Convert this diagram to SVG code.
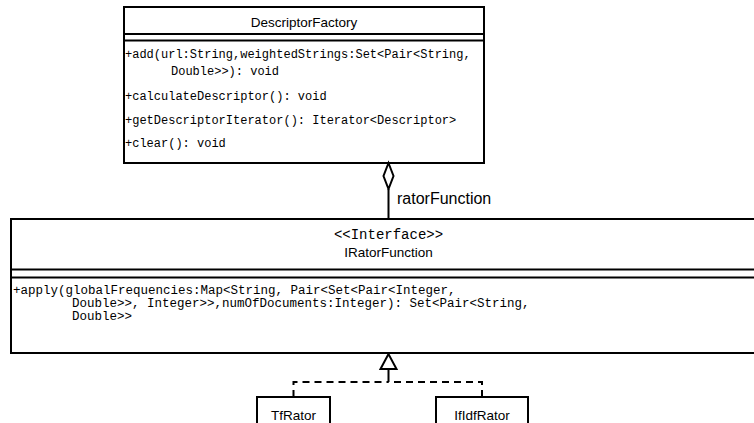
<svg xmlns="http://www.w3.org/2000/svg" width="754" height="423" viewBox="0 0 754 423">
  <style>
    .box{fill:#fff;stroke:#000;stroke-width:2}
    .sep{stroke:#000;stroke-width:2}
    .mono{font-family:"Liberation Mono","Courier New",monospace;font-size:12.5px;fill:#000}
    .small{font-size:12px}
    .sans{font-family:"Liberation Sans",Arial,sans-serif;font-size:13.5px;fill:#000}
    .mid{text-anchor:middle}
    .edge{fill:none;stroke:#000;stroke-width:2}
    .dash{stroke-dasharray:7 5}
    .head{fill:#fff;stroke:#000;stroke-width:2}
  </style>
  <rect width="754" height="423" fill="#fff"/>

  <!-- class DescriptorFactory -->
  <g id="DescriptorFactory">
    <rect class="box" x="124" y="7" width="360" height="156"/>
    <line class="sep" x1="124" y1="34" x2="484" y2="34"/>
    <line class="sep" x1="124" y1="40.5" x2="484" y2="40.5"/>
    <text class="sans mid" x="304" y="26.5">DescriptorFactory</text>
    <text class="mono small" x="125" y="58">+add(url:String,weightedStrings:Set&lt;Pair&lt;String,</text>
    <text class="mono small" x="171" y="75">Double&gt;&gt;): void</text>
    <text class="mono small" x="125" y="100">+calculateDescriptor(): void</text>
    <text class="mono small" x="125" y="123.5">+getDescriptorIterator(): Iterator&lt;Descriptor&gt;</text>
    <text class="mono small" x="125" y="147">+clear(): void</text>
  </g>

  <!-- interface IRatorFunction -->
  <g id="IRatorFunction">
    <rect class="box" x="11" y="219" width="760" height="134"/>
    <line class="sep" x1="11" y1="269.5" x2="754" y2="269.5"/>
    <line class="sep" x1="11" y1="277.5" x2="754" y2="277.5"/>
    <text class="mono mid" style="font-size:14px" x="388.5" y="238.5">&lt;&lt;Interface&gt;&gt;</text>
    <text class="sans mid" x="388.5" y="257">IRatorFunction</text>
    <text class="mono" x="13" y="294">+apply(globalFrequencies:Map&lt;String, Pair&lt;Set&lt;Pair&lt;Integer,</text>
    <text class="mono" x="72" y="307">Double&gt;&gt;, Integer&gt;&gt;,numOfDocuments:Integer): Set&lt;Pair&lt;String,</text>
    <text class="mono" x="72" y="320">Double&gt;&gt;</text>
  </g>

  <!-- implementing classes -->
  <g id="TfRator">
    <rect class="box" x="257" y="397" width="73" height="40"/>
    <text class="sans mid" x="293.5" y="420">TfRator</text>
  </g>
  <g id="IfIdfRator">
    <rect class="box" x="436" y="397" width="92" height="40"/>
    <text class="sans mid" x="482" y="420">IfIdfRator</text>
  </g>

  <!-- connectors -->
  <g id="connectors">
    <line class="edge" x1="388.5" y1="189" x2="388.5" y2="219"/>
    <polygon class="head" points="388.5,163 393.5,176 388.5,189 383.5,176"/>
    <text class="sans" style="font-size:16px" x="397" y="204">ratorFunction</text>

    <path class="edge dash" d="M293.5,397 V382 H388.5"/>
    <path class="edge dash" d="M482,397 V382 H388.5"/>
    <line class="edge" x1="388.5" y1="382" x2="388.5" y2="369"/>
    <polygon class="head" points="388.5,354 380.5,369 396.5,369"/>
  </g>
</svg>
